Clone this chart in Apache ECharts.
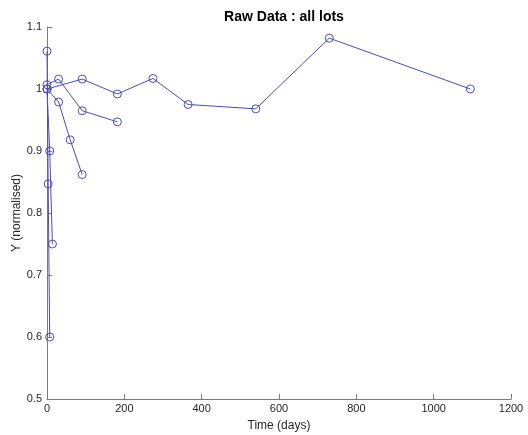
<!DOCTYPE html>
<html>
<head>
<meta charset="utf-8">
<script src="https://cdn.jsdelivr.net/npm/echarts@6/dist/echarts.min.js"></script>
<style>
  html, body { margin: 0; padding: 0; background: #fff; }
  #chart { width: 528px; height: 435px; }
</style>
</head>
<body>
<div id="chart"></div>
<script>
  // one array of [day, value] per lot
  const lotA = [[0, 1.000], [91, 1.016], [182, 0.992], [274, 1.017], [365, 0.975], [540, 0.968], [730, 1.082], [1095, 1.000]]
  const lotB = [[0, 1.007], [30, 1.016], [91, 0.965], [182, 0.947]]
  const lotC = [[0, 1.000], [30, 0.979], [60, 0.918], [91, 0.862]]
  const lotD = [[0, 1.061], [3, 0.847], [7, 0.600]]
  const lotE = [[0, 1.000], [7, 0.900], [14, 0.750]]
  const lots = [lotA, lotB, lotC, lotD, lotE]

  const xTicks = [0, 1200, 200]   // min, max, interval
  const yTicks = [0.5, 1.1, 0.1]

  const lineColor = '#4c4cb4'
  const axisColor = '#7a7a7a'
  const textColor = '#262626'

  const chart = echarts.init(document.getElementById('chart'))

  const seriesData = lots.map(function (lot) {
    return {
      type: 'line',
      data: lot,
      symbol: 'circle',
      symbolSize: 8,
      showAllSymbol: true,
      lineStyle: { color: lineColor, width: 1 },
      itemStyle: { color: 'rgba(255,255,255,0)', borderColor: lineColor, borderWidth: 1 },
      emphasis: { disabled: true },
      animation: false
    }
  })

  const axisCommon = {
    type: 'value',
    nameLocation: 'middle',
    nameMoveOverlap: false,
    nameTextStyle: { color: textColor, fontSize: 12, fontFamily: 'Liberation Sans' },
    axisLine: { show: true, lineStyle: { color: axisColor, width: 1 } },
    axisTick: { show: true, inside: true, length: 5, lineStyle: { color: axisColor } },
    axisLabel: { color: textColor, fontSize: 11, fontFamily: 'Liberation Sans', margin: 5 },
    splitLine: { show: false }
  }

  chart.setOption({
    backgroundColor: '#fff',
    title: {
      text: 'Raw Data : all lots',
      left: 279,
      textAlign: 'center',
      top: 5,
      textStyle: { fontSize: 14, fontWeight: 'bold', color: '#000', fontFamily: 'Liberation Sans' }
    },
    grid: { left: 47, right: 17, top: 27, bottom: 36, outerBoundsMode: 'none', containLabel: false },
    xAxis: Object.assign({}, axisCommon, {
      name: 'Time (days)',
      nameGap: 21,
      min: xTicks[0], max: xTicks[1], interval: xTicks[2],
      axisLabel: Object.assign({}, axisCommon.axisLabel, {
        margin: 4,
        formatter: function (v) { return String(v) }
      })
    }),
    yAxis: Object.assign({}, axisCommon, {
      name: 'Y (normalised)',
      nameGap: 24,
      min: yTicks[0], max: yTicks[1], interval: yTicks[2],
      axisLabel: Object.assign({}, axisCommon.axisLabel, {
        formatter: function (v) { return String(Math.round(v * 10) / 10) }
      })
    }),
    series: seriesData
  })
</script>
</body>
</html>
